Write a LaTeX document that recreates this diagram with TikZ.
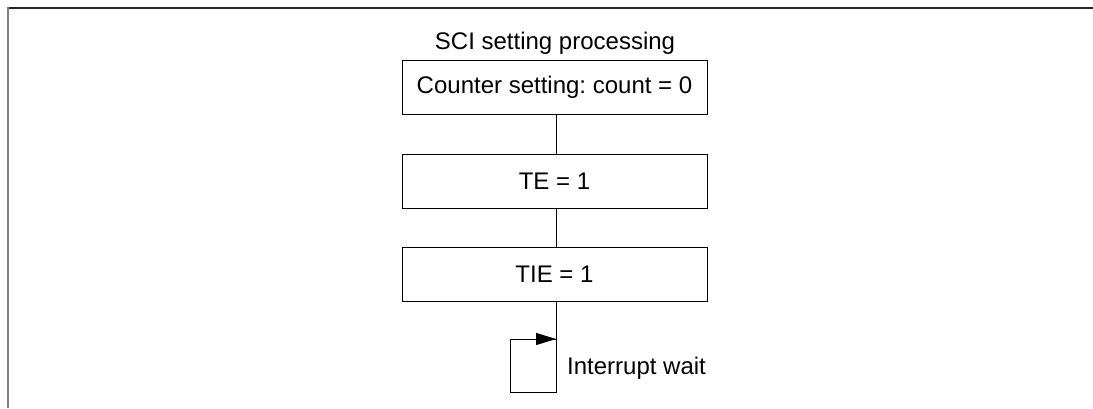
\documentclass[tikz,border=0pt]{standalone}
\usepackage{fontspec}
\setmainfont{Liberation Sans}
\usetikzlibrary{arrows.meta}
\frenchspacing
\begin{document}
\begin{tikzpicture}[x=1pt,y=-1pt,
  stepbox/.style={draw, line width=1pt, minimum width=305pt, minimum height=54pt, inner sep=0pt, font=\fontsize{24}{28}\selectfont},
  lbl/.style={inner sep=0pt, font=\fontsize{24}{28}\selectfont},
  conn/.style={line width=1pt}]
\useasboundingbox (0,0) rectangle (1093,408);
% frame
\draw[line width=2pt, black!85] (7,8) -- (1093,8);
\draw[line width=2.2pt, black!50] (8,7) -- (8,408);
% title and boxes
\node[lbl] (title) at (555,43) {SCI setting processing};
\node[stepbox] (b1) at (554.5,87) {Counter setting: count = 0};
\node[stepbox] (b2) at (554.5,181.5) {TE = 1};
\node[stepbox] (b3) at (554.5,274.5) {TIE = 1};
\draw[conn] (b1.south -| 556,0) -- (b2.north -| 556,0);
\draw[conn] (b2.south -| 556,0) -- (b3.north -| 556,0);
% interrupt wait loop
\coordinate (lb) at (556,392);
\coordinate (ll) at (510,392);
\coordinate (lt) at (510,339);
\coordinate (la) at (556,339);
\draw[conn] (b3.south -| 556,0) -- (lb) -- (ll) -- (lt) -- (la);
\draw[conn, -{Triangle[length=20pt,width=12pt]}] (lt) -- (la);
\node[lbl, anchor=west] (iw) at (567,368) {Interrupt wait};
\end{tikzpicture}
\end{document}
